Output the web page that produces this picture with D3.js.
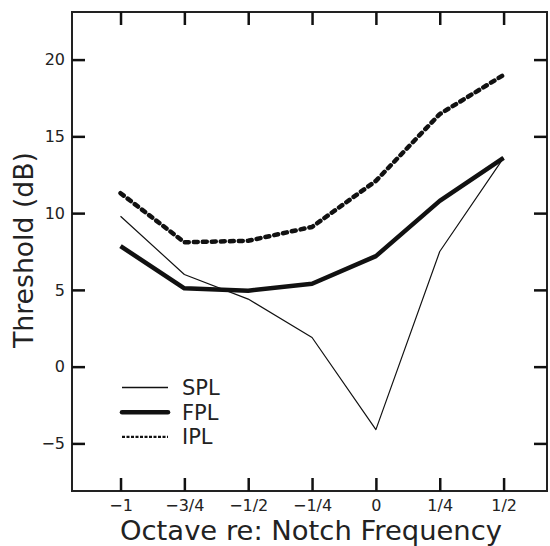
<!DOCTYPE html>
<html>
<head>
<meta charset="utf-8">
<script src="https://cdn.jsdelivr.net/npm/d3@7"></script>
<style>
  body { margin: 0; background: #fff; }
  text { font-family: "DejaVu Sans", "Liberation Sans", sans-serif; fill: #222; }
</style>
</head>
<body>
<div class="canvas"></div>
<script>
// data
const octaves = [-1, -0.75, -0.5, -0.25, 0, 0.25, 0.5];
const octaveLabels = ['\u22121', '\u22123/4', '\u22121/2', '\u22121/4', '0', '1/4', '1/2'];
const spl = [9.8, 6.0, 4.4, 1.9, -4.1, 7.5, 13.6];
const fpl = [7.85, 5.1, 4.95, 5.4, 7.2, 10.8, 13.6];
const ipl = [11.3, 8.1, 8.2, 9.1, 12.1, 16.45, 19.0];
const yTicks = [-5, 0, 5, 10, 15, 20];

const svg = d3.select('.canvas')
    .append('svg')
    .attr('width', 550)
    .attr('height', 546);

const margin = {top: 12, right: 3, bottom: 55, left: 72};
const graphWidth = 550 - margin.left - margin.right;
const graphHeight = 546 - margin.top - margin.bottom;

const graph = svg.append('g')
    .attr('transform', `translate(${margin.left}, ${margin.top})`);

// scales
const x = d3.scaleLinear()
    .domain([-1.19, 0.67])
    .range([0, graphWidth]);

const y = d3.scaleLinear()
    .domain([-8.1, 23.1])
    .range([graphHeight, 0]);

// frame
graph.append('rect')
    .attr('width', graphWidth)
    .attr('height', graphHeight)
    .attr('fill', 'none')
    .attr('stroke', '#222')
    .attr('stroke-width', 2);

// axes with inward ticks
const styleAxis = g => {
    g.select('.domain').remove();
    g.selectAll('.tick line').attr('stroke', '#111').attr('stroke-width', 2.5);
    g.selectAll('.tick text').attr('fill', '#222').style('font-size', '16px')
        .style('font-family', '"DejaVu Sans", "Liberation Sans", sans-serif');
};

graph.append('g')
    .attr('transform', `translate(0, ${graphHeight})`)
    .call(d3.axisBottom(x).tickValues(octaves)
        .tickFormat((d, i) => octaveLabels[i])
        .tickSizeInner(-13).tickSizeOuter(0).tickPadding(9))
    .call(styleAxis);

graph.append('g')
    .call(d3.axisTop(x).tickValues(octaves).tickFormat('')
        .tickSizeInner(-13).tickSizeOuter(0))
    .call(styleAxis);

graph.append('g')
    .call(d3.axisLeft(y).tickValues(yTicks)
        .tickFormat(d => d < 0 ? '\u2212' + Math.abs(d) : d)
        .tickSizeInner(-13).tickSizeOuter(0).tickPadding(7))
    .call(styleAxis);

graph.append('g')
    .attr('transform', `translate(${graphWidth}, 0)`)
    .call(d3.axisRight(y).tickValues(yTicks).tickFormat('')
        .tickSizeInner(-13).tickSizeOuter(0))
    .call(styleAxis);

// lines
const series = [
    {name: 'SPL', values: spl, width: 1.2, dash: null, legendWidth: 1.5, legendDash: null},
    {name: 'FPL', values: fpl, width: 4.5, dash: null, legendWidth: 4.5, legendDash: null},
    {name: 'IPL', values: ipl, width: 4.5, dash: '4,5', legendWidth: 2.2, legendDash: '3,1.5'}
];

const line = d3.line()
    .x((d, i) => x(octaves[i]))
    .y(d => y(d));

graph.selectAll('path.series')
    .data(series)
    .enter()
    .append('path')
    .attr('class', 'series')
    .attr('d', d => line(d.values))
    .attr('fill', 'none')
    .attr('stroke', '#111')
    .attr('stroke-width', d => d.width)
    .attr('stroke-linejoin', 'round')
    .attr('stroke-linecap', d => d.dash ? 'round' : 'butt')
    .attr('stroke-dasharray', d => d.dash);

// legend
const legend = graph.append('g')
    .attr('transform', `translate(50, 375.5)`);

const rows = legend.selectAll('g')
    .data(series)
    .enter()
    .append('g')
    .attr('transform', (d, i) => `translate(0, ${i * 24.7})`);

rows.append('line')
    .attr('x1', 0).attr('x2', 46)
    .attr('stroke', '#111')
    .attr('stroke-width', d => d.legendWidth)
    .attr('stroke-linecap', d => d.name === 'FPL' ? 'round' : 'butt')
    .attr('stroke-dasharray', d => d.legendDash);

rows.append('text')
    .attr('x', 60)
    .attr('dy', '0.36em')
    .style('font-size', '21px')
    .text(d => d.name);

// axis titles
svg.append('text')
    .attr('x', 120)
    .attr('y', 540)
    .attr('textLength', 382)
    .attr('lengthAdjust', 'spacingAndGlyphs')
    .style('font-size', '27px')
    .text('Octave re: Notch Frequency');

svg.append('text')
    .attr('transform', `translate(33, 348) rotate(-90)`)
    .attr('textLength', 196)
    .attr('lengthAdjust', 'spacingAndGlyphs')
    .style('font-size', '27px')
    .text('Threshold (dB)');
</script>
</body>
</html>
